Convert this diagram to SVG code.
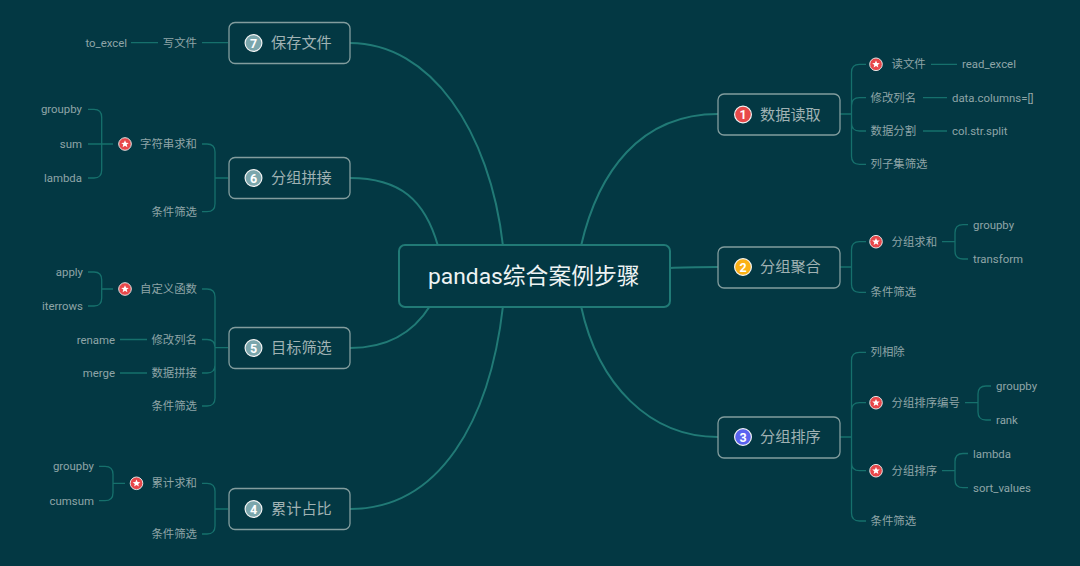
<svg xmlns="http://www.w3.org/2000/svg" xmlns:xlink="http://www.w3.org/1999/xlink" width="1080" height="566" viewBox="0 0 1080 566">
<style>
text{font-family:"Roboto","Noto Sans CJK SC",sans-serif;dominant-baseline:central}
.s{font-size:11.4px;fill:#8fa5a7}
.e{text-anchor:end}
.n{font-size:15.2px;fill:#a0b2b3}
.m{font-size:22.8px;fill:#eef3f3}
.box{fill:#033843;stroke:#839d9e;stroke-width:1.3}
.c{fill:none;stroke:#16706c;stroke-width:1.3}
.t{fill:none;stroke:#217a76;stroke-width:2}
.num{font-size:12.500px;font-weight:700;fill:#fff;text-anchor:middle}
.r{stroke:#f2f2f2;stroke-width:1.2}
</style>
<defs>
<g id="star"><circle r="6.300" fill="#e8474a" stroke="#e4e4e4" stroke-width="1"/><polygon points="0,-3.800 1.100,-1.300 3.800,-1.100 1.700,0.600 2.400,3.200 0,1.800 -2.400,3.200 -1.700,0.600 -3.800,-1.100 -1.100,-1.300" fill="#fff"/></g>
</defs>
<rect width="1080" height="566" fill="#033843"/>
<g id="connectors">
<path class="t" d="M581,246C598,172 640,114 718,114"/>
<path class="t" d="M670,268C685,267 700,267 718,267"/>
<path class="t" d="M581,306C598,385 650,437 718,437"/>
<path class="t" d="M503,246C490,130 430,43 350,43"/>
<path class="t" d="M438,246C425,200 400,178 350,178"/>
<path class="t" d="M430,306C415,330 390,348 350,348"/>
<path class="t" d="M503,306C490,420 440,509 350,509"/>
<path class="c" d="M840,114H851.500M866,64.300H859.500Q851.500,64.300 851.500,72.300V156.300Q851.500,164.300 859.500,164.300H866M866,97.700H859.500Q851.500,97.700 851.500,105.700M851.500,123Q851.500,131 859.500,131H866"/>
<path class="c" d="M931,64.300H957M923,97.700H947M923,131H947"/>
<path class="c" d="M840,267H851.500M866,241.700H859.500Q851.500,241.700 851.500,249.700V284.300Q851.500,292.300 859.500,292.300H866"/>
<path class="c" d="M942,241.700H955M968,224.700H963Q955,224.700 955,232.700V251Q955,259 963,259H968"/>
<path class="c" d="M840,437H851.500M866,352.300H859.500Q851.500,352.300 851.500,360.300V513Q851.500,521 859.500,521H866M866,402.700H859.500Q851.500,402.700 851.500,410.700M851.500,462.700Q851.500,470.700 859.500,470.700H866"/>
<path class="c" d="M965,402.700H978M991,386H986Q978,386 978,394V412Q978,420 986,420H991"/>
<path class="c" d="M942,470.700H955M968,453.500H963Q955,453.500 955,461.500V479.700Q955,487.700 963,487.700H968"/>
<path class="c" d="M228,42.700H202M158,42.700H131"/>
<path class="c" d="M228,178H215M202,144H207Q215,144 215,152V203.700Q215,211.700 207,211.700H202"/>
<path class="c" d="M113,144H88M88,109.400H94Q101.700,109.400 101.700,117.400V170Q101.700,178 94,178H88"/>
<path class="c" d="M228,347.700H215M202,289H207Q215,289 215,297V398Q215,406 207,406H202M202,339.500H207Q215,339.500 215,347.500M215,365Q215,373 207,373H202"/>
<path class="c" d="M147,339.500H120M147,373H120"/>
<path class="c" d="M113,289H101.700M88,272H94Q101.700,272 101.700,280V298Q101.700,306 94,306H88"/>
<path class="c" d="M228,509H215M202,483.300H207Q215,483.300 215,491.300V526Q215,534 207,534H202"/>
<path class="c" d="M125,483.300H113M99,466.300H105Q113,466.300 113,474.300V492.700Q113,500.700 105,500.700H99"/>
</g>
<g id="root"><rect x="399" y="245" width="271" height="62" rx="6" fill="#033843" stroke="#217a76" stroke-width="2"/><text class="m" x="428" y="276">pandas综合案例步骤</text></g>
<g id="node1"><rect class="box" x="718" y="94" width="122" height="41" rx="6"/><circle class="r" cx="743" cy="114.500" r="8.400" fill="#e84a4a"/><text class="num" x="743" y="114.500">1</text><text class="n" x="760" y="114.500">数据读取</text></g>
<g id="node1-items"><use xlink:href="#star" x="876" y="64.300"/><text class="s" x="891.500" y="64.300">读文件</text><text class="s" x="962" y="64.300">read_excel</text><text class="s" x="870.500" y="97.700">修改列名</text><text class="s" x="952" y="97.700">data.columns=[]</text><text class="s" x="870.500" y="131">数据分割</text><text class="s" x="952" y="131">col.str.split</text><text class="s" x="870.500" y="164.300">列子集筛选</text></g>
<g id="node2"><rect class="box" x="718" y="247" width="122" height="41" rx="6"/><circle class="r" cx="743" cy="267" r="8.400" fill="#fbb116"/><text class="num" x="743" y="267">2</text><text class="n" x="760" y="267">分组聚合</text></g>
<g id="node2-items"><use xlink:href="#star" x="876" y="241.700"/><text class="s" x="891.500" y="241.700">分组求和</text><text class="s" x="973" y="224.700">groupby</text><text class="s" x="973" y="259">transform</text><text class="s" x="870.500" y="292.300">条件筛选</text></g>
<g id="node3"><rect class="box" x="718" y="417" width="122" height="41" rx="6"/><circle class="r" cx="743" cy="437" r="8.400" fill="#5a63f0"/><text class="num" x="743" y="437">3</text><text class="n" x="760" y="437">分组排序</text></g>
<g id="node3-items"><text class="s" x="870.500" y="352.300">列相除</text><use xlink:href="#star" x="876" y="402.700"/><text class="s" x="891.500" y="402.700">分组排序编号</text><text class="s" x="996" y="386">groupby</text><text class="s" x="996" y="420">rank</text><use xlink:href="#star" x="876" y="470.700"/><text class="s" x="891.500" y="470.700">分组排序</text><text class="s" x="973" y="453.500">lambda</text><text class="s" x="973" y="487.700">sort_values</text><text class="s" x="870.500" y="521">条件筛选</text></g>
<g id="node4"><rect class="box" x="229" y="488.500" width="121" height="41" rx="6"/><circle class="r" cx="253.500" cy="509" r="8.400" fill="#7ba6ac"/><text class="num" x="253.500" y="509">4</text><text class="n" x="271" y="509">累计占比</text></g>
<g id="node4-items"><text class="s e" x="197" y="483.300">累计求和</text><use xlink:href="#star" x="136.500" y="483.300"/><text class="s e" x="94" y="466.300">groupby</text><text class="s e" x="94" y="500.700">cumsum</text><text class="s e" x="197" y="534">条件筛选</text></g>
<g id="node5"><rect class="box" x="229" y="327.500" width="121" height="41" rx="6"/><circle class="r" cx="253.500" cy="348" r="8.400" fill="#7ba6ac"/><text class="num" x="253.500" y="348">5</text><text class="n" x="271" y="348">目标筛选</text></g>
<g id="node5-items"><text class="s e" x="197" y="289">自定义函数</text><use xlink:href="#star" x="125" y="289"/><text class="s e" x="83" y="272">apply</text><text class="s e" x="83" y="306">iterrows</text><text class="s e" x="197" y="339.500">修改列名</text><text class="s e" x="115" y="339.500">rename</text><text class="s e" x="197" y="373">数据拼接</text><text class="s e" x="115" y="373">merge</text><text class="s e" x="197" y="406">条件筛选</text></g>
<g id="node6"><rect class="box" x="229" y="157.500" width="121" height="41" rx="6"/><circle class="r" cx="253.500" cy="178" r="8.400" fill="#7ba6ac"/><text class="num" x="253.500" y="178">6</text><text class="n" x="271" y="178">分组拼接</text></g>
<g id="node6-items"><text class="s e" x="197" y="144">字符串求和</text><use xlink:href="#star" x="125" y="144"/><text class="s e" x="82" y="109.400">groupby</text><text class="s e" x="82" y="144">sum</text><text class="s e" x="82" y="178">lambda</text><text class="s e" x="197" y="211.700">条件筛选</text></g>
<g id="node7"><rect class="box" x="229" y="22.500" width="121" height="41" rx="6"/><circle class="r" cx="253.500" cy="43" r="8.400" fill="#7ba6ac"/><text class="num" x="253.500" y="43">7</text><text class="n" x="271" y="43">保存文件</text></g>
<g id="node7-items"><text class="s e" x="197" y="42.700">写文件</text><text class="s e" x="127" y="42.700">to_excel</text></g>
</svg>
